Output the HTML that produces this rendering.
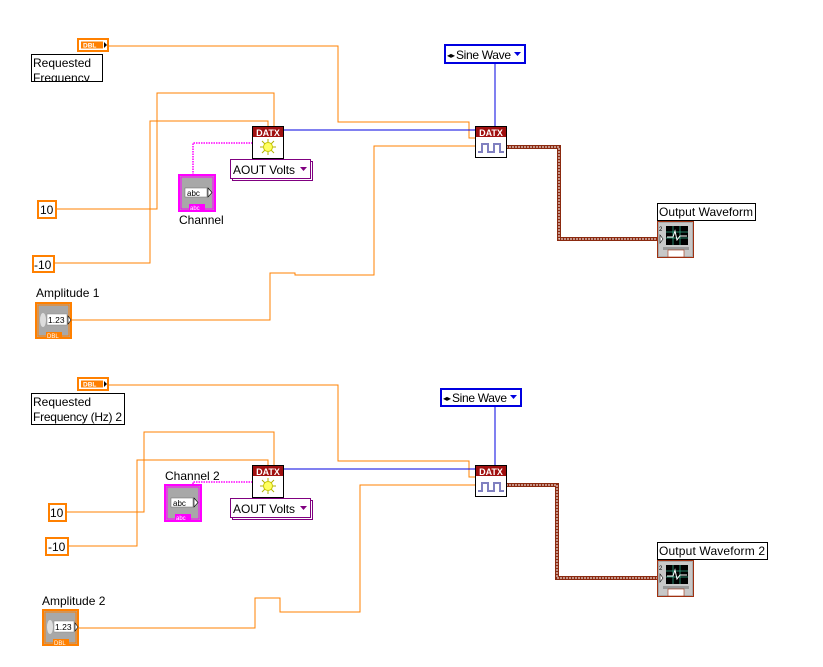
<!DOCTYPE html>
<html><head><meta charset="utf-8"><style>
html,body{margin:0;padding:0;background:#fff;}
svg{display:block;font-family:"Liberation Sans",sans-serif;}
</style></head><body>
<svg width="823" height="667" viewBox="0 0 823 667" xmlns="http://www.w3.org/2000/svg">
<defs>
<clipPath id="c1"><rect x="31" y="54" width="72" height="28"/></clipPath>
<g id="datxc">
  <rect x="0.5" y="0.5" width="31" height="32" fill="#fff" stroke="#000"/>
  <rect x="1" y="1" width="30" height="10" fill="#a01010"/>
  <text x="16" y="10" font-size="9" font-weight="bold" fill="#fff" text-anchor="middle">DATX</text>
  <path d="M16 13v16M8 21h16M10 15l12 12M22 15l-12 12" stroke="#b0b000" stroke-width="1"/>
  <circle cx="16" cy="21" r="4.5" fill="#ffff60" stroke="#c8c800"/>
</g>
<g id="datxw">
  <rect x="0.5" y="0.5" width="31" height="31" fill="#fff" stroke="#000"/>
  <rect x="1" y="1" width="30" height="10" fill="#a01010"/>
  <text x="16" y="10" font-size="9" font-weight="bold" fill="#fff" text-anchor="middle">DATX</text>
  <path d="M3 26h4v-8h6v8h6v-8h6v8h4" fill="none" stroke="#8080c0" stroke-width="2"/>
</g>
<g id="ring">
  <rect x="2.5" y="2.5" width="80" height="19" fill="#fff" stroke="#800080"/>
  <rect x="0.5" y="0.5" width="80" height="19" fill="#fff" stroke="#800080"/>
  <text x="3" y="15" font-size="12" textLength="62">AOUT Volts</text>
  <path d="M70 8h7l-3.5 4z" fill="#800080"/>
</g>
<g id="chan">
  <rect x="1" y="1" width="36" height="36" fill="#a8a8a8" stroke="#ff00ff" stroke-width="2"/>
  <rect x="3" y="3" width="32" height="32" fill="none" stroke="#ff00ff" stroke-width="1"/>
  <rect x="7" y="14" width="22" height="9" fill="#fff" stroke="#666" stroke-width="0.5"/>
  <text x="9" y="22" font-size="8">abc</text>
  <path d="M30 14l4 4.5l-4 4.5z" fill="#fff" stroke="#000" stroke-width="0.6"/>
  <rect x="11" y="30" width="16" height="7" fill="#ff00ff"/>
  <text x="12" y="36" font-size="6" fill="#fff">abc</text>
</g>
<g id="amp">
  <rect x="1" y="1" width="35" height="35" fill="#a8a8a8" stroke="#ff8000" stroke-width="2"/>
  <rect x="3" y="3" width="31" height="31" fill="none" stroke="#ff8000" stroke-width="1"/>
  <ellipse cx="8" cy="18" rx="3" ry="7" fill="#ddd"/>
  <rect x="12" y="12" width="20" height="11" fill="#fff" stroke="#888" stroke-width="0.5"/>
  <text x="13" y="21" font-size="8.5">1.23</text>
  <path d="M33 14l3 4l-3 4z" fill="#fff" stroke="#000" stroke-width="0.6"/>
  <rect x="11" y="30" width="16" height="7" fill="#ff8000"/>
  <text x="12" y="36" font-size="6" fill="#fff">DBL</text>
</g>
<g id="dbl">
  <rect x="1" y="1" width="30" height="12" fill="#fff" stroke="#ff8000" stroke-width="2"/>
  <rect x="4" y="3.5" width="22" height="7" fill="#ff8000"/>
  <text x="6" y="9.5" font-size="6.5" font-weight="bold" fill="#fff">DBL</text>
  <path d="M27 4l3 3l-3 3z" fill="#000"/>
</g>
<g id="graph">
  <rect x="0.5" y="0.5" width="36" height="36" fill="#a8a8a8" stroke="#a03010"/>
  <rect x="2" y="2" width="33" height="33" fill="#c8c8c8"/>
  <rect x="9" y="5" width="22" height="19" fill="#000"/>
  <path d="M9 11h22M9 17h22M16 5v19M23 5v19" stroke="#3a8" stroke-width="0.8"/>
  <path d="M10 16l6 0l2 -6l2 9l3 -4l7 0" stroke="#fff" fill="none"/>
  <path d="M3 14l3 4l-3 4z" fill="#fff" stroke="#000" stroke-width="0.6"/>
  <rect x="6" y="26" width="26" height="3" fill="#999"/>
  <rect x="11" y="29" width="16" height="7" fill="#fff" stroke="#a03010" stroke-width="0.6"/>
  <text x="2" y="10" font-size="6">2</text>
</g>
</defs>

<g fill="none" stroke="#ff8000" stroke-width="1">
  <path d="M108 46H338V122H469V138H476"/>
  <path d="M56 209H157V93H274V127"/>
  <path d="M54 263H150V121H268V127"/>
  <path d="M72 320H270V273H295V275H374V146H476"/>
  <path d="M108 385H338V461H469V477H476"/>
  <path d="M66 512H144V432H274V466"/>
  <path d="M68 546H137V460H268V466"/>
  <path d="M78 628H255V598H280V612H360V485H476"/>
</g>
<g fill="none" stroke="#0000e0" stroke-width="1">
  <path d="M283 130H476"/>
  <path d="M495 63V127"/>
  <path d="M283 469H476"/>
  <path d="M495 406V466"/>
</g>
<g fill="none" stroke="#ff00ff" stroke-width="1.5" stroke-dasharray="1.5 1">
  <path d="M193 175V143H252"/>
  <path d="M193 484V482H252"/>
</g>
<g fill="none">
  <path d="M506 147H559V239H660" stroke="#8b2a10" stroke-width="4"/>
  <path d="M506 147H559V239H660" stroke="#fff" stroke-width="1" stroke-dasharray="2 1"/>
  <path d="M506 485H557V578H660" stroke="#8b2a10" stroke-width="4"/>
  <path d="M506 485H557V578H660" stroke="#fff" stroke-width="1" stroke-dasharray="2 1"/>
</g>

<use href="#dbl" x="77" y="38"/>
<rect x="31.5" y="54.5" width="71" height="27" fill="#fff" stroke="#000"/>
<g clip-path="url(#c1)">
<text x="33" y="67" font-size="12">Requested</text>
<text x="33" y="82" font-size="12">Frequency</text>
</g>
<rect x="38" y="201" width="18" height="17" fill="#fff" stroke="#ff8000" stroke-width="2"/>
<text x="40" y="214" font-size="12">10</text>
<rect x="33" y="256" width="21" height="16" fill="#fff" stroke="#ff8000" stroke-width="2"/>
<text x="34" y="269" font-size="12">-10</text>
<text x="36" y="297" font-size="12">Amplitude 1</text>
<use href="#amp" x="35" y="302"/>
<use href="#chan" x="178" y="174"/>
<text x="179" y="224" font-size="12">Channel</text>
<use href="#datxc" x="252" y="126"/>
<use href="#ring" x="230" y="159"/>
<rect x="445" y="45" width="80" height="18" fill="#fff" stroke="#0000e0" stroke-width="2"/>
<text x="447" y="58" font-size="8">◂▸</text>
<text x="456" y="59" font-size="12" textLength="55">Sine Wave</text>
<path d="M514 52h7l-3.5 4z" fill="#0000e0"/>
<use href="#datxw" x="475" y="126"/>
<rect x="657.5" y="203.5" width="98" height="17" fill="#fff" stroke="#000"/>
<text x="659" y="216" font-size="12" textLength="94">Output Waveform</text>
<use href="#graph" x="657" y="221"/>

<use href="#dbl" x="77" y="377"/>
<rect x="31.5" y="393.5" width="93" height="31" fill="#fff" stroke="#000"/>
<text x="33" y="406" font-size="12">Requested</text>
<text x="33" y="421" font-size="12" textLength="89">Frequency (Hz) 2</text>
<rect x="49" y="504" width="17" height="17" fill="#fff" stroke="#ff8000" stroke-width="2"/>
<text x="50" y="517" font-size="12">10</text>
<rect x="46" y="538" width="22" height="17" fill="#fff" stroke="#ff8000" stroke-width="2"/>
<text x="48" y="551" font-size="12">-10</text>
<text x="42" y="605" font-size="12">Amplitude 2</text>
<use href="#amp" x="42" y="609"/>
<text x="165" y="480" font-size="12">Channel 2</text>
<use href="#chan" x="164" y="484"/>
<use href="#datxc" x="252" y="465"/>
<use href="#ring" x="230" y="498"/>
<rect x="441" y="389" width="80" height="17" fill="#fff" stroke="#0000e0" stroke-width="2"/>
<text x="443" y="401" font-size="8">◂▸</text>
<text x="452" y="402" font-size="12" textLength="55">Sine Wave</text>
<path d="M510 395h7l-3.5 4z" fill="#0000e0"/>
<use href="#datxw" x="475" y="465"/>
<rect x="657.5" y="542.5" width="110" height="17" fill="#fff" stroke="#000"/>
<text x="659" y="555" font-size="12" textLength="106">Output Waveform 2</text>
<use href="#graph" x="657" y="560"/>
</svg>
</body></html>
